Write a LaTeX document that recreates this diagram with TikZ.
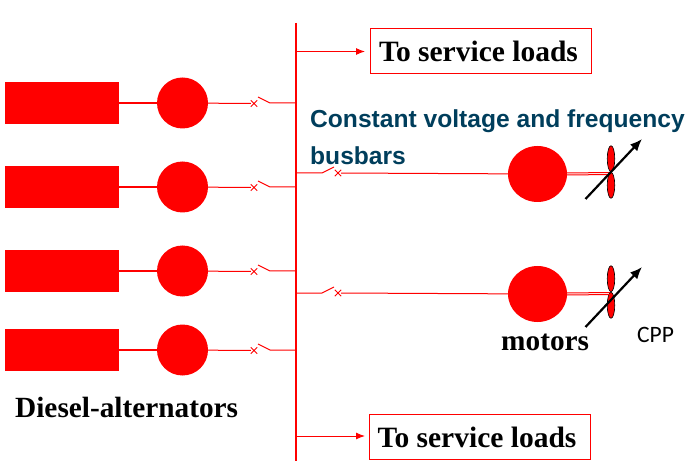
\documentclass[tikz,border=0pt]{standalone}
\usepackage{fontspec}
\setmainfont{Liberation Serif}
\setsansfont{Liberation Sans}
\newfontfamily\cppfont{Carlito}
\usetikzlibrary{arrows.meta,shapes.misc,shapes.geometric}
\definecolor{busred}{RGB}{255,0,0}
\definecolor{busblue}{RGB}{0,62,92}
\def\busX{296}
\tikzset{
  engine/.style={draw=none,fill=busred,minimum width=114pt,minimum height=42pt,inner sep=0pt},
  alternator/.style={circle,draw=none,fill=busred,minimum size=51pt,inner sep=0pt},
  motor/.style={ellipse,draw=none,fill=busred,minimum width=59pt,minimum height=56pt,inner sep=0pt},
  blade/.style={ellipse,draw=black,line width=.6pt,fill=busred,minimum width=7.5pt,minimum height=26pt,inner sep=0pt},
  wire/.style={draw=busred,line width=1pt},
  shaft/.style={draw=busred,line width=2pt},
  breaker/.style={cross out,draw=busred,line width=.9pt,minimum size=5.5pt,inner sep=0pt},
  loadbox/.style={draw=busred,line width=1pt,minimum width=221pt,minimum height=45pt,inner sep=0pt,
    text height=21pt,text depth=0pt,font=\fontsize{29.5}{32}\selectfont\bfseries},
  feed/.style={wire,-{Latex[length=9pt,width=7pt]}},
  pitch/.style={draw=black,line width=2.2pt,-{Latex[length=12pt,width=10pt]}},
  bold label/.style={inner sep=0pt,anchor=base west,font=\fontsize{29.3}{32}\selectfont\bfseries},
  bus label/.style={inner sep=0pt,anchor=base west,text=busblue,font=\fontsize{24.6}{28}\selectfont\sffamily\bfseries}
}
\begin{document}
\begin{tikzpicture}[x=1pt,y=-1pt]
    \useasboundingbox (0,0) rectangle (693,470);

    % main bus
    \coordinate (busTop) at (\busX,23);
    \coordinate (busBot) at (\busX,461);
    \draw[wire,line width=1.3pt] (busTop) -- (busBot);

    % diesel-alternator sets
    \foreach \name/\y in {a/103,b/187,c/271,d/350} {
      \node[engine] (eng\name) at (62,\y) {};
      \node[alternator] (alt\name) at (182.5,\y) {};
      \node[breaker] (brk\name) at (254,\y+.5) {};
      \coordinate (open\name) at (258,\y-6);
      \coordinate (hinge\name) at (270,\y);
      \coordinate (tap\name) at (\busX,\y);
      \draw[shaft] (eng\name) -- (alt\name);
      \draw[wire] (alt\name) -- (brk\name);
      \draw[wire] (open\name) -- (hinge\name) -- (tap\name);
    }

    % motor feeders
    \foreach \name/\y/\ym/\yp/\yq in {e/173/174/199/139,f/293/294/327/267} {
      \coordinate (tap\name) at (\busX,\y);
      \coordinate (hinge\name) at (322,\y);
      \coordinate (open\name) at (334,\y-6);
      \node[breaker] (brk\name) at (338,\y) {};
      \node[motor] (mot\name) at (537.5,\ym) {};
      \node[blade,anchor=south] (up\name) at (611,\y-1) {};
      \node[blade,anchor=north] (low\name) at (611,\y-1) {};
      \coordinate (hub\name) at (610,\y+.5);
      \coordinate (pitchA\name) at (585.5,\yp);
      \coordinate (pitchB\name) at (642,\yq);
      \draw[wire] (tap\name) -- (hinge\name) -- (open\name);
      \draw[wire] (brk\name) -- (mot\name);
      \draw[wire] ([yshift=-1pt]mot\name.east) -- ([yshift=-1pt]hub\name);
      \draw[wire] ([yshift=1pt]mot\name.east) -- ([yshift=1pt]hub\name);
      \draw[pitch] (pitchA\name) -- (pitchB\name);
    }

    % service loads
    \node[loadbox] (loadTop) at (480.5,51.5) {\hspace*{-4pt}To service loads};
    \node[loadbox] (loadBot) at (479.5,436.5) {\hspace*{-5pt}To service loads};
    \coordinate (tapTop) at (\busX,51.5);
    \coordinate (tapBot) at (\busX,436);
    \draw[feed] (tapTop) -- (365,51.5);
    \draw[feed] (tapBot) -- (365,436);

    % labels
    \node[bus label] (busText) at (310,128) {Constant voltage and frequency};
    \node[bus label] (busText2) at (310,164.5) {busbars};
    \node[bold label] (dieselText) at (15,417) {Diesel-alternators};
    \node[bold label] (motorText) at (501,350) {motors};
    \node[inner sep=0pt,anchor=base west,font=\fontsize{23.5}{26}\selectfont\cppfont] (cppText) at (637,342.5) {CPP};
  \end{tikzpicture}
\end{document}
